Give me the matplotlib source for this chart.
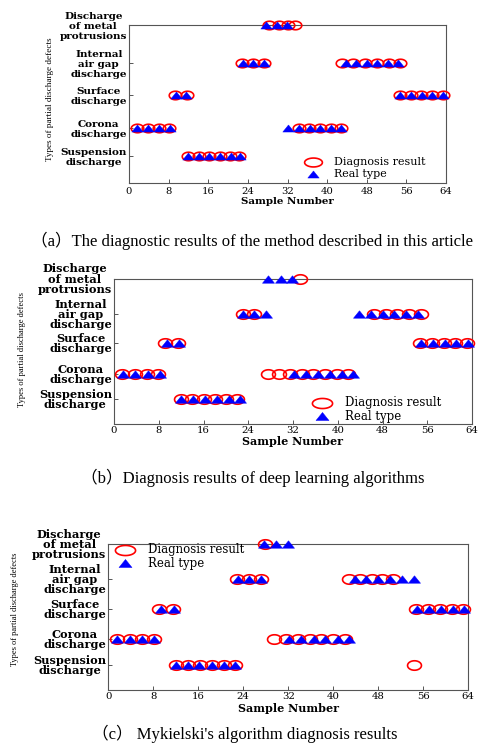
import numpy as np
import matplotlib
matplotlib.use("Agg")
import matplotlib.pyplot as plt
from matplotlib.path import Path

# ---------------- data ----------------
categories = ["Suspension\ndischarge", "Corona\ndischarge", "Surface\ndischarge",
              "Internal\nair gap\ndischarge", "Discharge\nof metal\nprotrusions"]
xticks = [0, 8, 16, 24, 32, 40, 48, 56, 64]

# real type: sample numbers for each category (same in all three panels)
real_susp = [12.0, 14.1, 16.2, 18.4, 20.5, 22.5]
real_corona = [1.6, 3.8, 6.0, 8.2, 32.1, 34.3, 36.5, 38.6, 40.8, 42.8]
real_surface = [9.4, 11.6, 54.8, 57.0, 59.1, 61.2, 63.3]
real_internal = [23.0, 25.1, 27.2, 43.8, 45.9, 48.0, 50.1, 52.2, 54.3]
real_metal = [27.6, 29.8, 31.9]

# (a) proposed method: diagnosis results
diag_a_susp = [12.0, 14.1, 16.2, 18.3, 20.3, 22.3]
diag_a_corona = [1.6, 3.8, 6.0, 8.1, 34.3, 36.4, 38.5, 40.7, 42.8]
diag_a_surface = [9.3, 11.7, 54.8, 56.9, 59.0, 61.2, 63.4]
diag_a_internal = [22.9, 25.0, 27.2, 43.0, 45.3, 47.7, 50.0, 52.4, 54.7]
diag_a_metal = [28.2, 30.2, 32.1, 33.6]

# (b) deep learning: diagnosis results
diag_b_susp = [11.9, 14.0, 16.1, 18.1, 20.0, 22.0]
diag_b_corona = [1.5, 3.7, 5.9, 7.9, 27.6, 29.5, 31.4, 33.6, 35.6, 37.7, 39.8, 41.9]
diag_b_surface = [9.2, 11.5, 54.7, 56.9, 59.0, 61.0, 63.1]
diag_b_internal = [23.0, 25.0, 46.5, 48.6, 50.6, 52.7, 54.8]
diag_b_metal = [33.2]

# (c) Mykielski's algorithm: diagnosis results
diag_c_susp = [12.1, 14.2, 16.3, 18.4, 20.5, 22.6, 54.3]
diag_c_corona = [1.6, 3.8, 6.0, 8.1, 29.5, 31.6, 33.7, 35.8, 37.9, 40.0, 42.1]
diag_c_surface = [9.1, 11.5, 54.7, 56.9, 59.0, 61.1, 63.1]
diag_c_internal = [22.9, 25.0, 27.2, 42.8, 44.8, 46.8, 48.7, 50.7]
diag_c_metal = [27.8]

real_sets = [real_susp, real_corona, real_surface, real_internal, real_metal]
diag_sets = {
    "a": [diag_a_susp, diag_a_corona, diag_a_surface, diag_a_internal, diag_a_metal],
    "b": [diag_b_susp, diag_b_corona, diag_b_surface, diag_b_internal, diag_b_metal],
    "c": [diag_c_susp, diag_c_corona, diag_c_surface, diag_c_internal, diag_c_metal],
}
captions = {
    "a": "（a）The diagnostic results of the method described in this article",
    "b": "（b）Diagnosis results of deep learning algorithms",
    "c": "（c） Mykielski's algorithm diagnosis results",
}

# ---------------- layout ----------------
W, H = 478, 751
level_pos = [0.171, 0.347, 0.556, 0.758, 1.0]   # vertical placement of the 5 classes

panels = {
    # rect in pixels: left, top, right, bottom
    "a": dict(rect=(129, 25, 446, 183), ytf=7.5, yls=1.12, xtf=7.2, xlf=7.4, ylf=6.6, lgf=8.0,
              ell=9.0, tri=8.2, lell=12.8, ltri=8.2, xpad=2.6,
              xlab_y=-0.114, ylab=(-0.249, 0.532),
              leg=(0.580, 0.136, 0.054, 0.647), cap=(31, 245.5)),
    "b": dict(rect=(114, 278.5, 472, 424), ytf=8.2, yls=0.9, xtf=7.3, xlf=8.0, ylf=6.1, lgf=8.5,
              ell=10.0, tri=8.7, lell=14.5, ltri=9.4, xpad=1.6,
              xlab_y=-0.122, ylab=(-0.257, 0.509),
              leg=(0.581, 0.146, 0.053, 0.645), cap=(81, 483)),
    "c": dict(rect=(108.3, 544, 468.3, 690), ytf=8.2, yls=0.9, xtf=7.3, xlf=8.0, ylf=6.0, lgf=8.5,
              ell=10.0, tri=8.7, lell=14.5, ltri=9.4, xpad=1.6,
              xlab_y=-0.126, ylab=(-0.259, 0.555),
              leg=(0.046, 0.960, 0.868, 0.110), cap=(92, 739)),
}

RED = "#ff0000"
BLUE = "#0000ff"
GRAY = "#555555"
SERIF = "DejaVu Serif"

t = np.linspace(0, 2 * np.pi, 72)
ellipse = Path(np.column_stack([np.cos(t), 0.68 * np.sin(t)]), closed=True)
ellipse_leg = Path(np.column_stack([np.cos(t), 0.5 * np.sin(t)]), closed=True)
triangle = Path([(-1, -0.62), (1, -0.62), (0, 0.62), (-1, -0.62)], closed=True)

fig = plt.figure(figsize=(W / 100, H / 100), dpi=100)
fig.patch.set_facecolor("white")

for key in ["a", "b", "c"]:
    p = panels[key]
    l, tp, r, b = p["rect"]
    ax = fig.add_axes([l / W, 1 - b / H, (r - l) / W, (b - tp) / H])
    ax.set_xlim(0, 64)
    ax.set_ylim(0, 1)

    for lvl, xs in zip(level_pos, diag_sets[key]):
        ax.plot(xs, [lvl] * len(xs), linestyle="none", marker=ellipse, ms=p["ell"],
                mfc="none", mec=RED, mew=1.2, clip_on=False, zorder=3)
    for lvl, xs in zip(level_pos, real_sets):
        ax.plot(xs, [lvl] * len(xs), linestyle="none", marker=triangle, ms=p["tri"],
                mfc=BLUE, mec=BLUE, mew=0.3, clip_on=False, zorder=4)

    for s in ax.spines.values():
        s.set_color(GRAY)
        s.set_linewidth(0.8)
    ax.tick_params(axis="both", direction="in", length=3, width=0.7, color=GRAY)
    ax.tick_params(axis="x", pad=p["xpad"])
    ax.tick_params(axis="y", pad=1.5)

    ax.set_xticks(xticks)
    ax.set_xticklabels([str(v) for v in xticks], fontfamily=SERIF, fontsize=p["xtf"])
    ax.set_yticks(level_pos)
    ax.set_yticklabels(categories, fontfamily=SERIF, fontsize=p["ytf"], fontweight="bold",
                       multialignment="center", linespacing=p["yls"])

    ax.set_xlabel("Sample Number", fontfamily=SERIF, fontsize=p["xlf"], fontweight="bold")
    ax.xaxis.set_label_coords(0.5, p["xlab_y"])
    ax.xaxis.label.set_va("center")
    ax.set_ylabel("Types of partial discharge defects", fontfamily="Liberation Serif",
                  fontsize=p["ylf"])
    ax.yaxis.set_label_coords(*p["ylab"])
    ax.yaxis.label.set_va("center")

    # legend
    lx, ly1, ly2, tx = p["leg"]
    ax.plot([lx], [ly1], transform=ax.transAxes, linestyle="none", marker=ellipse_leg,
            ms=p["lell"], mfc="none", mec=RED, mew=1.2, clip_on=False, zorder=5)
    ax.plot([lx], [ly2], transform=ax.transAxes, linestyle="none", marker=triangle,
            ms=p["ltri"], mfc=BLUE, mec=BLUE, mew=0.3, clip_on=False, zorder=5)
    ax.text(tx, ly1, "Diagnosis result", transform=ax.transAxes, fontfamily=SERIF,
            fontsize=p["lgf"], va="center", ha="left")
    ax.text(tx, ly2, "Real type", transform=ax.transAxes, fontfamily=SERIF,
            fontsize=p["lgf"], va="center", ha="left")

    cx, cy = p["cap"]
    fig.text(cx / W, 1 - cy / H, captions[key], fontsize=12,
             family=["Liberation Serif", "Noto Sans CJK SC"], ha="left", va="baseline")

fig.savefig("out.png", dpi=100, facecolor="white")
